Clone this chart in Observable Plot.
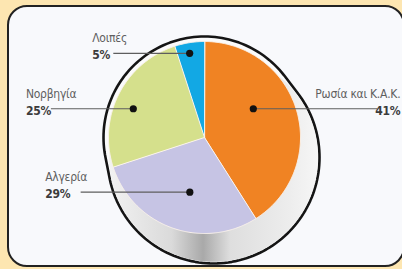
<!DOCTYPE html>
<html>
<head>
<meta charset="utf-8">
<script src="https://cdn.jsdelivr.net/npm/d3@7"></script>
<script src="https://cdn.jsdelivr.net/npm/@observablehq/plot@0.6"></script>
<style>
  html, body { margin: 0; padding: 0; }
  body { width: 402px; height: 269px; background: #fde6b1; position: relative; overflow: hidden; }
  #panel { position: absolute; left: 7px; top: 5px; width: 394px; height: 258px; border: 2px solid #222;
           border-radius: 20px; background: #f8f9fc; }
  #chart { position: absolute; left: 0; top: 0; }
  #chart svg { display: block; }
  #chart text { letter-spacing: -0.25px; }
</style>
</head>
<body>
<div id="panel"></div>
<div id="chart"></div>
<script>
// ---- data ----
const names = ["Ρωσία και Κ.Α.Κ.", "Αλγερία", "Νορβηγία", "Λοιπές"];
const shares = [41, 29, 25, 5];
const pctLabels = ["41%", "29%", "25%", "5%"];
const colors = ["#f08323", "#c6c4e4", "#d5e08c", "#12a8e4"];

// ---- layout (label callouts, in pie-radius units) ----
const dotAngle = [59.5, 195, 292, 350];
const dotRadius = [0.59, 0.59, 0.80, 0.89];
const lineEndX = [1.80, -1.29, -1.60, -0.95];
const textX = [2.04, -1.66, -1.86, -1.17];
const textSide = ["end", "start", "start", "start"];

const W = 402, H = 269, K = 96, CX = 204, CY = 137;
const font = "'Liberation Sans Narrow', 'DejaVu Sans Condensed', 'Roboto Condensed', sans-serif";

const rows = names.map((n, i) => ({name: n, share: shares[i], pct: pctLabels[i]}));
const arcs = d3.pie().sort(null).value(d => d.share).startAngle(0).endAngle(2 * Math.PI)(rows);

function pt(a, r, ox = 0, oy = 0) { return {x: ox + r * Math.sin(a), y: oy + r * Math.cos(a)}; }

// slices as polygons
const slicePts = [];
arcs.forEach(a => {
  slicePts.push({name: a.data.name, x: 0, y: 0});
  const n = Math.max(2, Math.ceil((a.endAngle - a.startAngle) / 0.01));
  for (let j = 0; j <= n; j++) {
    const t = a.startAngle + (a.endAngle - a.startAngle) * j / n;
    slicePts.push({name: a.data.name, ...pt(t, 1)});
  }
});

// coin body: top face + shifted bottom face
const rA = 1.052, rB = 1.104, bx = 0.094, by = -0.208;
const circ = (r, ox, oy) => d3.range(0, 361, 2).map(d => pt(d * Math.PI / 180, r, ox, oy));
const hull = d3.polygonHull([...circ(rA, 0, 0), ...circ(rB, bx, by)].map(p => [p.x, p.y])).map(([x, y]) => ({x, y}));
const bottomFace = circ(rB * 0.985, bx, by);

// callouts
const call = rows.map((d, i) => {
  const p = pt(dotAngle[i] * Math.PI / 180, dotRadius[i]);
  return {...d, dx: p.x, dy: p.y, lx: lineEndX[i], tx: textX[i], side: textSide[i]};
});

const chart = Plot.plot({
  width: W, height: H,
  margin: 0,
  x: {domain: [-CX / K, (W - CX) / K], axis: null},
  y: {domain: [(CY - H) / K, CY / K], axis: null},
  color: {domain: names, range: colors},
  style: {background: "transparent", fontFamily: font},
  marks: [
    Plot.line(hull, {x: "x", y: "y", curve: "linear-closed", fill: "#fbfbfb", stroke: "#151515", strokeWidth: 2.6}),
    Plot.line(bottomFace, {x: "x", y: "y", curve: "linear-closed", fill: "url(#side)", stroke: "none"}),
    Plot.line(slicePts, {x: "x", y: "y", z: "name", fill: "name", stroke: "#fbf3ec", strokeWidth: 1, curve: "linear-closed"}),
    Plot.link(call, {x1: "dx", y1: "dy", x2: "lx", y2: "dy", stroke: "#5e5e5e", strokeWidth: 1.2}),
    Plot.dot(call, {x: "dx", y: "dy", r: 3.6, fill: "#111"}),
    Plot.text(call.filter(d => d.side === "start"), {x: "tx", y: "dy", text: "name", dy: -15, textAnchor: "start", fill: "#5f5f5f", fontSize: 12}),
    Plot.text(call.filter(d => d.side === "start"), {x: "tx", y: "dy", text: "pct", dy: 2, textAnchor: "start", fill: "#3c3c3c", fontSize: 12, fontWeight: "bold"}),
    Plot.text(call.filter(d => d.side === "end"), {x: "tx", y: "dy", text: "name", dy: -15, textAnchor: "end", fill: "#5f5f5f", fontSize: 12}),
    Plot.text(call.filter(d => d.side === "end"), {x: "tx", y: "dy", text: "pct", dy: 2, textAnchor: "end", fill: "#3c3c3c", fontSize: 12, fontWeight: "bold"})
  ]
});

d3.select(chart).insert("defs", ":first-child").html(`
  <linearGradient id="side" x1="0" y1="0" x2="1" y2="0">
    <stop offset="0" stop-color="#f2f2f2"/>
    <stop offset="0.3" stop-color="#dadada"/>
    <stop offset="0.45" stop-color="#a9a9a9"/>
    <stop offset="0.58" stop-color="#dedede"/>
    <stop offset="0.85" stop-color="#ececec"/>
    <stop offset="1" stop-color="#f6f6f6"/>
  </linearGradient>`);

document.getElementById("chart").appendChild(chart);
</script>
</body>
</html>
